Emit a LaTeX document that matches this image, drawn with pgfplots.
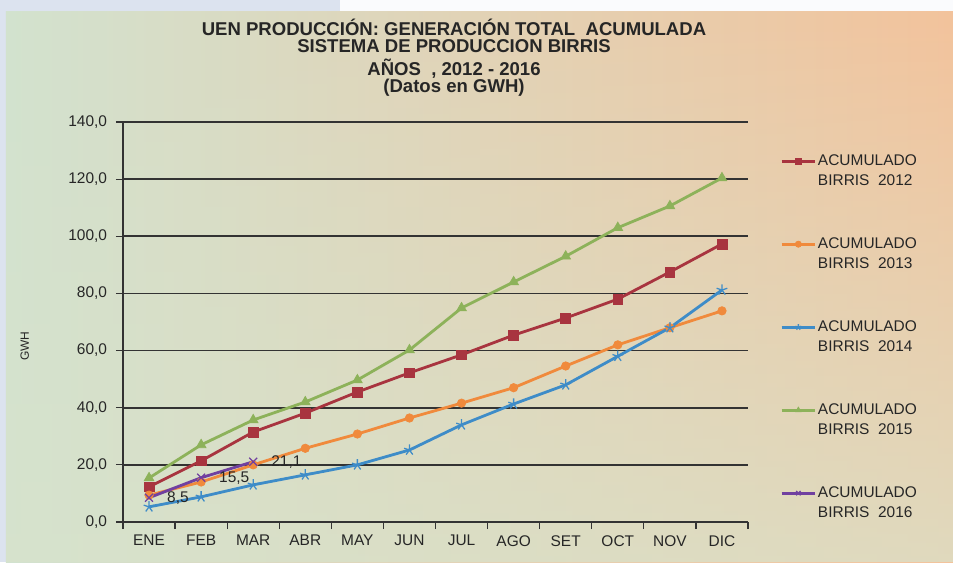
\documentclass[border=0pt]{standalone}
\usepackage{fontspec}
\setmainfont{Liberation Sans}
\usepackage{pgfplots}
\pgfplotsset{compat=1.18}
\usetikzlibrary{fadings}
\definecolor{c12}{HTML}{A8343F}
\definecolor{c13}{HTML}{F08A3C}
\definecolor{c14}{HTML}{3E8CC8}
\definecolor{c15}{HTML}{8DB25A}
\definecolor{c16}{HTML}{7040A0}
\definecolor{gridc}{HTML}{333333}
\definecolor{bgblue}{HTML}{DCE3EF}
\definecolor{bgL}{HTML}{D2E2CF}
\definecolor{bgM}{HTML}{EBDDBA}
\definecolor{bgR}{HTML}{F3C39C}
\definecolor{bgB}{HTML}{D8E3CC}
\begin{document}
\begin{tikzpicture}
\fill[bgblue] (0,0) rectangle (23.825cm,14.05cm);
\fill[white!85!bgblue] (8.5cm,13.75cm) rectangle (23.825cm,14.05cm);
\shade[left color=bgL, middle color=bgM, right color=bgR] (0.15cm,0) rectangle (23.825cm,13.75cm);
\fill[bgB, path fading=north, opacity=0.7] (0.15cm,0) rectangle (23.825cm,13.75cm);
\begin{scope}[font=\bfseries\fontsize{13.2}{15}\selectfont, text=black!85]
\node at (11.35cm,13.375cm) {UEN PRODUCCIÓN: GENERACIÓN TOTAL\ \ ACUMULADA};
\node at (11.35cm,12.89cm) {SISTEMA DE PRODUCCION BIRRIS};
\node at (11.35cm,12.325cm) {AÑOS\ \ , 2012 - 2016};
\node at (11.35cm,11.85cm) {(Datos en GWH)};
\end{scope}
\begin{axis}[
  at={(3.075cm,1cm)}, anchor=south west,
  scale only axis, width=15.625cm, height=10cm,
  xmin=0.5, xmax=12.5, ymin=0, ymax=140,
  xtick={1,...,12},
  xticklabels={ENE,FEB,MAR,ABR,MAY,JUN,JUL,AGO,SET,OCT,NOV,DIC},
  minor xtick={0.5,1.5,...,12.5},
  ytick={0,20,...,140},
  ymajorgrids, grid style={gridc, line width=1.2pt},
  axis lines=left, axis line style={-, gridc, line width=1.1pt},
  tick align=outside, major tick length=5pt, minor tick length=5pt,
  major x tick style={draw=none},
  minor x tick style={gridc, line width=0.9pt},
  y tick style={gridc, line width=0.9pt},
  /pgf/number format/assume math mode=true,
  yticklabel style={xshift=-0.1cm, /pgf/number format/fixed, /pgf/number format/fixed zerofill,
    /pgf/number format/precision=1, /pgf/number format/use comma},
  xticklabel style={yshift=-0.03cm},
  tick label style={font=\fontsize{11}{13}\selectfont, text=black!85},
  ylabel={GWH},
  ylabel style={at={(axis description cs:-0.157,0.44)}, anchor=center, font=\fontsize{8.5}{10}\selectfont, text=black!85},
  legend style={at={(1.051,0.922)}, anchor=north west, draw=none, fill=none,
    inner sep=0pt, font=\fontsize{11}{14}\selectfont, text=black!85,
    nodes={align=left, inner sep=1pt}, row sep=1.19cm},
  legend cell align=left,
  legend image code/.code={\draw[mark repeat=2,mark phase=2,mark size=2.2pt] plot coordinates {(0cm,0.25cm) (0.42cm,0.25cm) (0.84cm,0.25cm)};},
  every axis plot/.append style={line width=2pt},
]
\addplot[c12, mark=square*, mark size=3.5pt, mark options={solid, line width=0.5pt, fill=c12}] coordinates {
 (1,12.3) (2,21.4) (3,31.5) (4,38.1) (5,45.5) (6,52.2) (7,58.5) (8,65.4) (9,71.4) (10,78.0) (11,87.5) (12,97.3)};
\addlegendentry{ACUMULADO\\BIRRIS\ \ 2012}
\addplot[c13, mark=*, mark size=3pt, mark options={solid, line width=0.5pt, fill=c13}] coordinates {
 (1,9.4) (2,14.0) (3,20.0) (4,25.8) (5,30.8) (6,36.4) (7,41.6) (8,47.0) (9,54.6) (10,62.0) (11,68.0) (12,73.9)};
\addlegendentry{ACUMULADO\\BIRRIS\ \ 2013}
\addplot[c14, mark=star, mark size=4pt, mark options={solid, line width=0.9pt}] coordinates {
 (1,5.3) (2,8.8) (3,13.0) (4,16.5) (5,20.0) (6,25.2) (7,34.0) (8,41.3) (9,48.0) (10,58.0) (11,68.0) (12,81.2)};
\addlegendentry{ACUMULADO\\BIRRIS\ \ 2014}
\addplot[c15, mark=triangle*, mark size=4pt, mark options={solid, line width=0.5pt, fill=c15}] coordinates {
 (1,15.4) (2,27.0) (3,35.7) (4,42.0) (5,49.7) (6,60.2) (7,74.9) (8,84.0) (9,93.0) (10,103.0) (11,110.6) (12,120.4)};
\addlegendentry{ACUMULADO\\BIRRIS\ \ 2015}
\addplot[c16, mark=x, mark size=4pt, mark options={solid, line width=0.9pt},
  nodes near coords={\pgfmathprintnumber[fixed,fixed zerofill,precision=1,use comma]{\pgfplotspointmeta}},
  nodes near coords style={anchor=west, xshift=0.32cm, font=\fontsize{11}{13}\selectfont, text=black!85}] coordinates {
 (1,8.5) (2,15.5) (3,21.1)};
\addlegendentry{ACUMULADO\\BIRRIS\ \ 2016}
\end{axis}
\end{tikzpicture}
\end{document}
